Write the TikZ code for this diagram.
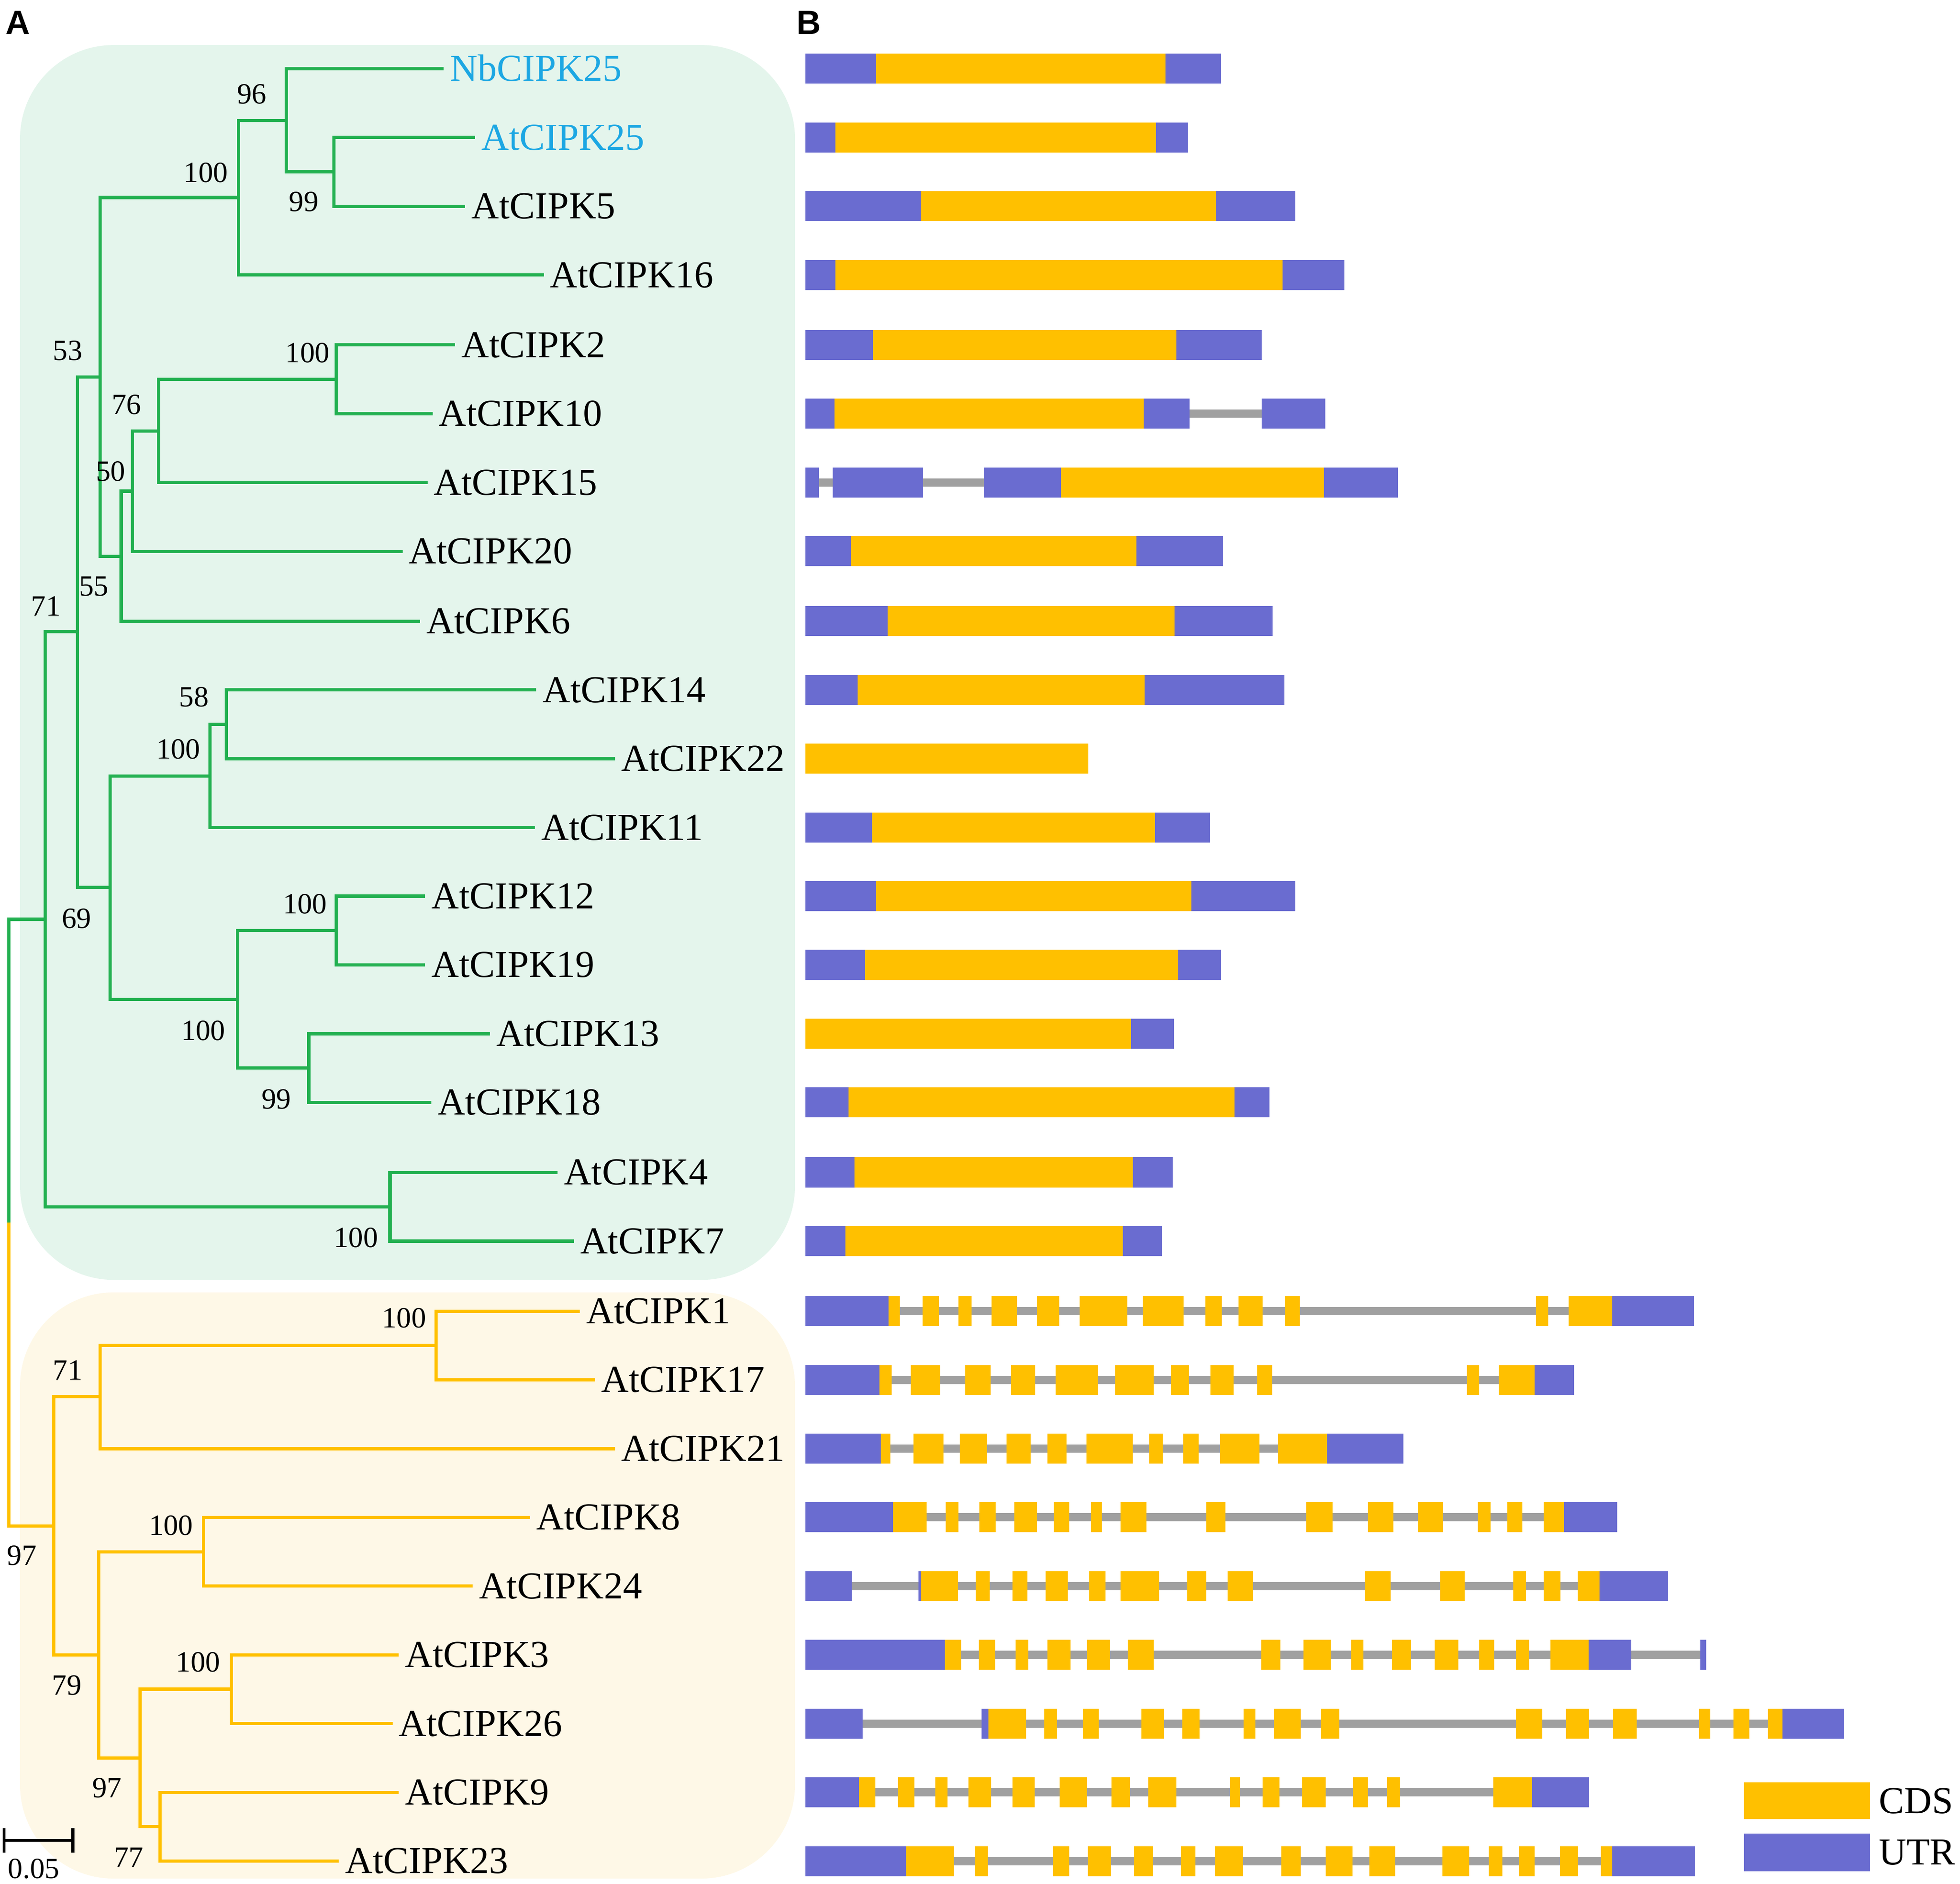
\documentclass[tikz,border=0pt]{standalone}
\usepackage{fontspec}
\setmainfont{Liberation Serif}
\newfontfamily\panelfont{Liberation Sans}
\definecolor{gline}{RGB}{34,176,80}
\definecolor{yline}{RGB}{255,192,0}
\definecolor{gbox}{RGB}{228,245,236}
\definecolor{ybox}{RGB}{254,248,231}
\definecolor{utrc}{RGB}{106,108,208}
\definecolor{cdsc}{RGB}{255,192,0}
\definecolor{intronc}{RGB}{160,160,160}
\definecolor{hilite}{RGB}{28,167,227}
\newcommand{\genintron}[3]{\fill[intronc] (#2,#1-3.25) rectangle (#3,#1+3.25);}
\newcommand{\genesegs}[2]{\foreach \c/\a/\b in {#2}{\fill[fill=\c] (\a,#1-12) rectangle (\b,#1+12);}}
\begin{document}
\begin{tikzpicture}[x=1pt,y=-1pt,
  gbr/.style={draw=gline,line width=2.6pt},
  ybr/.style={draw=yline,line width=2.6pt},
  leaf/.style={anchor=west,inner sep=0pt,font=\fontsize{30.5}{36}\selectfont,text height=19.9pt,text depth=0pt},
  bs/.style={inner sep=0pt,font=\fontsize{23.5}{28}\selectfont,text height=15.5pt,text depth=0pt},
  panel/.style={anchor=base west,inner sep=0pt,font=\panelfont\bfseries\fontsize{27}{32}\selectfont}]
\useasboundingbox (0,0) rectangle (1568,1507.3);
% clade boxes
\fill[gbox,rounded corners=75pt] (16,36) rectangle (636,1024);
\fill[ybox,rounded corners=75pt] (16,1034) rectangle (636,1503);
% panel labels
\node[panel] (pA) at (4.5,27.6) {A};
\node[panel] (pB) at (637,27.6) {B};
% leaf tips
\coordinate (t0) at (355,55);
\coordinate (t1) at (380,110);
\coordinate (t2) at (372,165);
\coordinate (t3) at (435,220);
\coordinate (t4) at (364,276);
\coordinate (t5) at (346,331);
\coordinate (t6) at (342,386);
\coordinate (t7) at (322,441);
\coordinate (t8) at (336,497);
\coordinate (t9) at (429,552);
\coordinate (t10) at (492,607);
\coordinate (t11) at (428,662);
\coordinate (t12) at (340,717);
\coordinate (t13) at (340,772);
\coordinate (t14) at (392,827);
\coordinate (t15) at (345,882);
\coordinate (t16) at (446,938);
\coordinate (t17) at (459,993);
\coordinate (t18) at (464,1049);
\coordinate (t19) at (476,1104);
\coordinate (t20) at (492,1159);
\coordinate (t21) at (424,1214);
\coordinate (t22) at (378,1269);
\coordinate (t23) at (319,1324);
\coordinate (t24) at (314,1379);
\coordinate (t25) at (319,1434);
\coordinate (t26) at (271,1489);
% leaf labels
\node[leaf,text=hilite] (l0) at ([xshift=5pt]t0) {NbCIPK25};
\node[leaf,text=hilite] (l1) at ([xshift=5pt]t1) {AtCIPK25};
\node[leaf] (l2) at ([xshift=5pt]t2) {AtCIPK5};
\node[leaf] (l3) at ([xshift=5pt]t3) {AtCIPK16};
\node[leaf] (l4) at ([xshift=5pt]t4) {AtCIPK2};
\node[leaf] (l5) at ([xshift=5pt]t5) {AtCIPK10};
\node[leaf] (l6) at ([xshift=5pt]t6) {AtCIPK15};
\node[leaf] (l7) at ([xshift=5pt]t7) {AtCIPK20};
\node[leaf] (l8) at ([xshift=5pt]t8) {AtCIPK6};
\node[leaf] (l9) at ([xshift=5pt]t9) {AtCIPK14};
\node[leaf] (l10) at ([xshift=5pt]t10) {AtCIPK22};
\node[leaf] (l11) at ([xshift=5pt]t11) {AtCIPK11};
\node[leaf] (l12) at ([xshift=5pt]t12) {AtCIPK12};
\node[leaf] (l13) at ([xshift=5pt]t13) {AtCIPK19};
\node[leaf] (l14) at ([xshift=5pt]t14) {AtCIPK13};
\node[leaf] (l15) at ([xshift=5pt]t15) {AtCIPK18};
\node[leaf] (l16) at ([xshift=5pt]t16) {AtCIPK4};
\node[leaf] (l17) at ([xshift=5pt]t17) {AtCIPK7};
\node[leaf] (l18) at ([xshift=5pt]t18) {AtCIPK1};
\node[leaf] (l19) at ([xshift=5pt]t19) {AtCIPK17};
\node[leaf] (l20) at ([xshift=5pt]t20) {AtCIPK21};
\node[leaf] (l21) at ([xshift=5pt]t21) {AtCIPK8};
\node[leaf] (l22) at ([xshift=5pt]t22) {AtCIPK24};
\node[leaf] (l23) at ([xshift=5pt]t23) {AtCIPK3};
\node[leaf] (l24) at ([xshift=5pt]t24) {AtCIPK26};
\node[leaf] (l25) at ([xshift=5pt]t25) {AtCIPK9};
\node[leaf] (l26) at ([xshift=5pt]t26) {AtCIPK23};
% internal nodes
\coordinate (gnb) at (229,96.5);
\coordinate (g255) at (267,137.5);
\coordinate (ga) at (191,158);
\coordinate (g210) at (269,303.5);
\coordinate (g76) at (127,345);
\coordinate (g50) at (106,393);
\coordinate (g55) at (97,445);
\coordinate (g53) at (80,301.5);
\coordinate (g58) at (181,579.5);
\coordinate (gb) at (168,621);
\coordinate (g1219) at (269,744.5);
\coordinate (g1318) at (247,854.5);
\coordinate (gc) at (190,799.5);
\coordinate (g69) at (88,710);
\coordinate (g71) at (62,505.5);
\coordinate (g47) at (312,965.5);
\coordinate (groot) at (36,735.5);
\coordinate (y117) at (349,1076.5);
\coordinate (y71) at (80,1117.5);
\coordinate (y824) at (163,1241.5);
\coordinate (y326) at (185,1351.5);
\coordinate (y923) at (128,1461.5);
\coordinate (y97) at (112,1406.5);
\coordinate (y79) at (79,1324);
\coordinate (yroot) at (43,1221);
\coordinate (root) at (7,978);
% green branches
\draw[gbr] (g255) |- (t1); \draw[gbr] (g255) |- (t2);
\draw[gbr] (gnb) |- (t0); \draw[gbr] (gnb) |- (g255);
\draw[gbr] (ga) |- (gnb); \draw[gbr] (ga) |- (t3);
\draw[gbr] (g210) |- (t4); \draw[gbr] (g210) |- (t5);
\draw[gbr] (g76) |- (g210); \draw[gbr] (g76) |- (t6);
\draw[gbr] (g50) |- (g76); \draw[gbr] (g50) |- (t7);
\draw[gbr] (g55) |- (g50); \draw[gbr] (g55) |- (t8);
\draw[gbr] (g53) |- (ga); \draw[gbr] (g53) |- (g55);
\draw[gbr] (g58) |- (t9); \draw[gbr] (g58) |- (t10);
\draw[gbr] (gb) |- (g58); \draw[gbr] (gb) |- (t11);
\draw[gbr] (g1219) |- (t12); \draw[gbr] (g1219) |- (t13);
\draw[gbr] (g1318) |- (t14); \draw[gbr] (g1318) |- (t15);
\draw[gbr] (gc) |- (g1219); \draw[gbr] (gc) |- (g1318);
\draw[gbr] (g69) |- (gb); \draw[gbr] (g69) |- (gc);
\draw[gbr] (g71) |- (g53); \draw[gbr] (g71) |- (g69);
\draw[gbr] (g47) |- (t16); \draw[gbr] (g47) |- (t17);
\draw[gbr] (groot) |- (g71); \draw[gbr] (groot) |- (g47);
\draw[gbr] (root) |- (groot);
% yellow branches
\draw[ybr] (y117) |- (t18); \draw[ybr] (y117) |- (t19);
\draw[ybr] (y71) |- (y117); \draw[ybr] (y71) |- (t20);
\draw[ybr] (y824) |- (t21); \draw[ybr] (y824) |- (t22);
\draw[ybr] (y326) |- (t23); \draw[ybr] (y326) |- (t24);
\draw[ybr] (y923) |- (t25); \draw[ybr] (y923) |- (t26);
\draw[ybr] (y97) |- (y326); \draw[ybr] (y97) |- (y923);
\draw[ybr] (y79) |- (y824); \draw[ybr] (y79) |- (y97);
\draw[ybr] (yroot) |- (y71); \draw[ybr] (yroot) |- (y79);
\draw[ybr] (root) |- (yroot);
% bootstrap values
\node[bs] (b1) at (201.4,75.3) {96};
\node[bs] (b2) at (164.7,137.9) {100};
\node[bs] (b3) at (243.1,161.2) {99};
\node[bs] (b4) at (54.2,280.6) {53};
\node[bs] (b5) at (246,282.2) {100};
\node[bs] (b6) at (101.3,323.7) {76};
\node[bs] (b7) at (88.4,377) {50};
\node[bs] (b8) at (75,468.8) {55};
\node[bs] (b9) at (36.7,485) {71};
\node[bs] (b10) at (155.1,557.5) {58};
\node[bs] (b11) at (142.6,599.5) {100};
\node[bs] (b12) at (61.3,735) {69};
\node[bs] (b13) at (244,723.2) {100};
\node[bs] (b14) at (162.6,824.6) {100};
\node[bs] (b15) at (221,879.4) {99};
\node[bs] (b16) at (284.8,990) {100};
\node[bs] (b17) at (323.2,1054.6) {100};
\node[bs] (b18) at (54.2,1096.1) {71};
\node[bs] (b19) at (17.5,1244.4) {97};
\node[bs] (b20) at (136.8,1220.4) {100};
\node[bs] (b21) at (53.4,1348.2) {79};
\node[bs] (b22) at (158.5,1329.7) {100};
\node[bs] (b23) at (85.5,1430.2) {97};
\node[bs] (b24) at (103,1486) {77};
% scale bar
\coordinate (sb1) at (3.3,1472.4);
\coordinate (sb2) at (58.4,1472.4);
\draw[black,line width=2.4pt] (sb1) -- (sb2);
\draw[black,line width=2.4pt] ([yshift=9.7pt]sb1) -- ([yshift=-9.7pt]sb1);
\draw[black,line width=2.4pt] ([yshift=9.7pt]sb2) -- ([yshift=-9.7pt]sb2);
\node[bs] (sbl) at (27.1,1495.1) {0.05};
% gene structures
\genesegs{55}{utrc/644.5/700.5, cdsc/700.5/932.5, utrc/932.5/976.6}
\genesegs{110}{utrc/644.5/668.2, cdsc/668.2/924.7, utrc/924.7/950.6}
\genesegs{165}{utrc/644.5/737.1, cdsc/737.1/972.8, utrc/972.8/1036.2}
\genesegs{220}{utrc/644.5/668.2, cdsc/668.2/1026.2, utrc/1026.2/1075.5}
\genesegs{276}{utrc/644.5/698.6, cdsc/698.6/941, utrc/941/1009.5}
\genintron{331}{951}{1010}
\genesegs{331}{utrc/644.5/667.5, cdsc/667.5/915, utrc/915/951.7, utrc/1009.2/1060.3}
\genintron{386}{655}{788}
\genesegs{386}{utrc/644.5/655.2, utrc/666/738.3, utrc/787.2/848.7, cdsc/848.7/1059.2, utrc/1059.2/1118.5}
\genesegs{441}{utrc/644.5/680.8, cdsc/680.8/909.1, utrc/909.1/978.4}
\genesegs{497}{utrc/644.5/710.1, cdsc/710.1/939.5, utrc/939.5/1018.1}
\genesegs{552}{utrc/644.5/686, cdsc/686/915.8, utrc/915.8/1027.7}
\genesegs{607}{cdsc/644.5/870.6}
\genesegs{662}{utrc/644.5/697.9, cdsc/697.9/924, utrc/924/968}
\genesegs{717}{utrc/644.5/700.5, cdsc/700.5/953.2, utrc/953.2/1036.2}
\genesegs{772}{utrc/644.5/691.9, cdsc/691.9/942.5, utrc/942.5/976.6}
\genesegs{827}{cdsc/644.5/904.7, utrc/904.7/939.1}
\genesegs{882}{utrc/644.5/679, cdsc/679/987.7, utrc/987.7/1015.5}
\genesegs{938}{utrc/644.5/683.4, cdsc/683.4/906.1, utrc/906.1/938}
\genesegs{993}{utrc/644.5/676.4, cdsc/676.4/898.4, utrc/898.4/929.5}
\genintron{1049}{720}{1255}
\genesegs{1049}{utrc/644.5/710.7, cdsc/710.7/720, cdsc/737.9/751, cdsc/766.8/777.1, cdsc/793.4/813.6, cdsc/829.4/847.3, cdsc/863.7/901.8, cdsc/914.3/946.9, cdsc/964.4/977.4, cdsc/991/1010.1, cdsc/1028/1040, cdsc/1228.9/1238.7, cdsc/1255/1289.9, utrc/1289.9/1355.2}
\genintron{1104}{713}{1199}
\genesegs{1104}{utrc/644.5/703.6, cdsc/703.6/713.4, cdsc/728.7/752.1, cdsc/772.2/792.4, cdsc/808.7/828.3, cdsc/844.6/878.4, cdsc/892/923, cdsc/936.6/951.3, cdsc/968.2/986.7, cdsc/1005.7/1017.7, cdsc/1173.4/1183.2, cdsc/1199/1227.8, utrc/1227.8/1259.4}
\genintron{1159}{712}{1023}
\genesegs{1159}{utrc/644.5/704.7, cdsc/704.7/712.3, cdsc/730.9/754.8, cdsc/767.9/789.6, cdsc/805.4/824.5, cdsc/838.1/853.3, cdsc/869.1/906.1, cdsc/919.2/930.1, cdsc/946.4/958.9, cdsc/975.8/1007.4, cdsc/1022.6/1061.8, utrc/1061.8/1122.8}
\genintron{1214}{741}{1235}
\genesegs{1214}{utrc/644.5/714.5, cdsc/714.5/741.2, cdsc/756.4/766.8, cdsc/783.6/796.7, cdsc/811.4/829.4, cdsc/843/855.5, cdsc/872.9/881.6, cdsc/896.3/917, cdsc/964.9/980.2, cdsc/1044.9/1066.1, cdsc/1094.4/1114.6, cdsc/1134.2/1154.3, cdsc/1182.1/1192.4, cdsc/1206/1218, cdsc/1234.9/1251.2, utrc/1251.2/1293.7}
\genintron{1269}{681}{1263}
\genesegs{1269}{utrc/644.5/681.3, utrc/734.7/736.8, cdsc/736.8/766.2, cdsc/780.4/791.8, cdsc/809.8/821.8, cdsc/836.4/854.4, cdsc/871.3/884.3, cdsc/896.3/927.3, cdsc/949.7/964.9, cdsc/982.3/1002.5, cdsc/1091.7/1112.4, cdsc/1152.1/1171.8, cdsc/1210.4/1220.7, cdsc/1234.9/1248.5, cdsc/1262.1/1279.5, utrc/1279.5/1334.5}
\genintron{1324}{769}{1361}
\genesegs{1324}{utrc/644.5/755.9, cdsc/755.9/769, cdsc/783.1/796.2, cdsc/812.5/822.8, cdsc/838.1/856.6, cdsc/869.6/888.2, cdsc/902.3/923, cdsc/1009/1024.2, cdsc/1042.7/1064.5, cdsc/1080.8/1090.6, cdsc/1113.5/1128.7, cdsc/1147.8/1166.8, cdsc/1183.2/1195.2, cdsc/1212.6/1223.4, cdsc/1240.3/1270.8, utrc/1270.8/1305.1, utrc/1360.1/1365}
\genintron{1379}{690}{1415}
\genesegs{1379}{utrc/644.5/690, utrc/785.3/790.7, cdsc/790.7/820.7, cdsc/835.4/845.7, cdsc/866.4/878.9, cdsc/913.2/931.2, cdsc/945.9/959.5, cdsc/994.8/1004.1, cdsc/1019.3/1040.5, cdsc/1056.9/1071.6, cdsc/1212.6/1233.8, cdsc/1252.8/1271.4, cdsc/1290.4/1309.4, cdsc/1359/1368.2, cdsc/1386.7/1399.3, cdsc/1414.5/1425.9, utrc/1425.9/1474.9}
\genintron{1434}{700}{1195}
\genesegs{1434}{utrc/644.5/687.3, cdsc/687.3/700.4, cdsc/718.3/731.4, cdsc/748.3/758.1, cdsc/774.9/792.9, cdsc/809.8/827.7, cdsc/847.9/869.6, cdsc/889.2/904, cdsc/918.6/941, cdsc/984/992.1, cdsc/1010.1/1023.7, cdsc/1041.7/1060.7, cdsc/1082.5/1094.4, cdsc/1109.7/1120, cdsc/1194.6/1225.6, utrc/1225.6/1271.3}
\genintron{1489}{763}{1281}
\genesegs{1489}{utrc/644.5/724.9, cdsc/724.9/763, cdsc/779.8/790.2, cdsc/842.4/855.5, cdsc/870.2/888.7, cdsc/907.2/922.4, cdsc/944.8/956.2, cdsc/972/994.3, cdsc/1024.8/1040.5, cdsc/1060.7/1081.9, cdsc/1095.5/1116.2, cdsc/1153.8/1175.5, cdsc/1190.8/1201.7, cdsc/1215.3/1227.8, cdsc/1247.9/1262.6, cdsc/1280.6/1289.9, utrc/1289.9/1355.7}
% legend
\fill[cdsc] (1395,1426) rectangle (1496,1455.5);
\fill[utrc] (1395,1467) rectangle (1496,1497);
\node[leaf] (lgC) at (1503,1441) {CDS};
\node[leaf] (lgU) at (1503,1482) {UTR};
\end{tikzpicture}
\end{document}
